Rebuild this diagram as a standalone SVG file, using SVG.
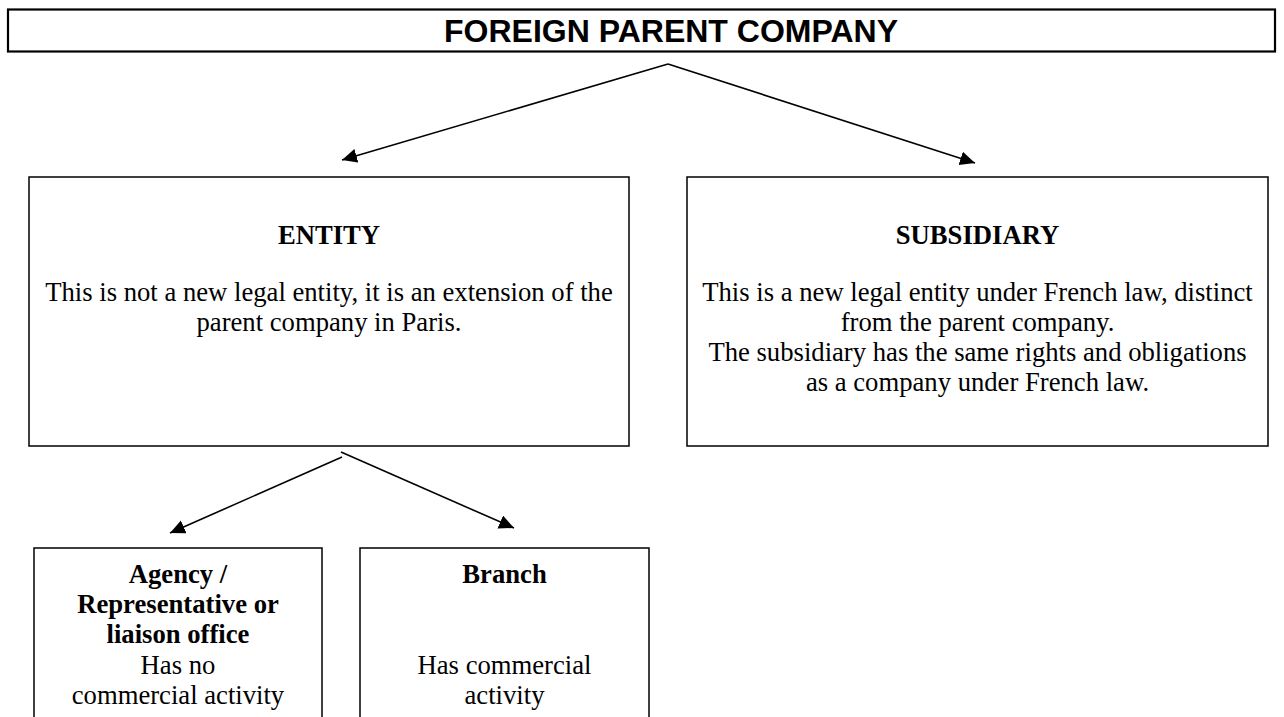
<svg xmlns="http://www.w3.org/2000/svg" width="1284" height="717" viewBox="0 0 1284 717">
<style>
.box{fill:#fff;stroke:#000;stroke-width:1.5}
.title{fill:#fff;stroke:#000;stroke-width:2.2}
.tt{font-family:"Liberation Sans",Arial,sans-serif;font-weight:bold;font-size:32px;text-anchor:middle;fill:#000}
.h{font-family:"Liberation Serif","Times New Roman",serif;font-weight:bold;font-size:26.67px;text-anchor:middle;fill:#000}
.b{font-family:"Liberation Serif","Times New Roman",serif;font-size:26.67px;text-anchor:middle;fill:#000}
.c{fill:none;stroke:#000;stroke-width:1.6}
</style>
<defs>
<marker id="ah" markerUnits="userSpaceOnUse" markerWidth="16" markerHeight="16" refX="15" refY="7" orient="auto">
<path d="M0,0 L15,7 L0,14 z" fill="#000"/>
</marker>
</defs>
<rect width="1284" height="717" fill="#fff"/>
<g id="parent">
<rect class="title" x="8" y="9.5" width="1267" height="42"/>
<text class="tt" x="671" y="42">FOREIGN PARENT COMPANY</text>
</g>
<g id="entity">
<rect class="box" x="29" y="177" width="600" height="269"/>
<text class="h" x="329" y="244">ENTITY</text>
<text class="b" x="329" y="301">This is not a new legal entity, it is an extension of the</text>
<text class="b" x="329" y="331">parent company in Paris.</text>
</g>
<g id="subsidiary">
<rect class="box" x="687" y="177" width="581" height="269"/>
<text class="h" x="977.5" y="244">SUBSIDIARY</text>
<text class="b" x="977.5" y="301">This is a new legal entity under French law, distinct</text>
<text class="b" x="977.5" y="331">from the parent company.</text>
<text class="b" x="977.5" y="361">The subsidiary has the same rights and obligations</text>
<text class="b" x="977.5" y="391">as a company under French law.</text>
</g>
<g id="agency">
<rect class="box" x="34" y="548" width="288" height="200"/>
<text class="h" x="178" y="583">Agency /</text>
<text class="h" x="178" y="613">Representative or</text>
<text class="h" x="178" y="643">liaison office</text>
<text class="b" x="178" y="674">Has no</text>
<text class="b" x="178" y="704">commercial activity</text>
</g>
<g id="branch">
<rect class="box" x="360" y="548" width="289" height="200"/>
<text class="h" x="504.5" y="583">Branch</text>
<text class="b" x="504.5" y="674">Has commercial</text>
<text class="b" x="504.5" y="704">activity</text>
</g>
<g id="connectors">
<line class="c" x1="668" y1="64" x2="342" y2="160" marker-end="url(#ah)"/>
<line class="c" x1="668" y1="64" x2="975" y2="163" marker-end="url(#ah)"/>
<line class="c" x1="342" y1="457" x2="170" y2="533" marker-end="url(#ah)"/>
<line class="c" x1="341" y1="452" x2="514" y2="528" marker-end="url(#ah)"/>
</g>
</svg>
